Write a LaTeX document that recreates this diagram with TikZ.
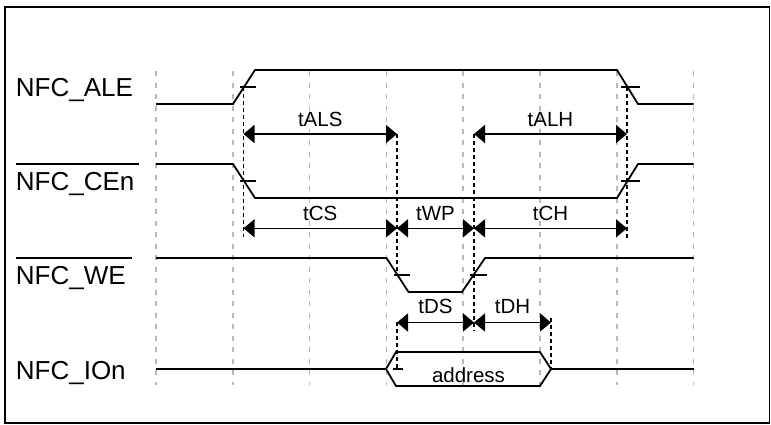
\documentclass[tikz,border=0pt]{standalone}
\usepackage{fontspec}
\setmainfont{Liberation Sans}
\usetikzlibrary{arrows.meta}
\tikzset{
  sig/.style={line width=1.8pt, line join=miter},
  tick/.style={line width=1.8pt},
  gridl/.style={draw=black!28, line width=1.2pt, dash pattern=on 5pt off 6.5pt},
  ext/.style={line width=1.6pt, dash pattern=on 4pt off 3pt},
  dim/.style={line width=1.6pt, {Triangle[length=11pt,width=18pt]}-{Triangle[length=11pt,width=18pt]}},
  siglabel/.style={anchor=base west, inner sep=0pt, font=\fontsize{26}{30}\selectfont},
  dimlabel/.style={anchor=base, inner sep=0pt, font=\fontsize{20.5}{24}\selectfont},
  ovl/.style={line width=1.6pt}
}
\begin{document}
\begin{tikzpicture}[x=1pt,y=-1pt]
\useasboundingbox (0,0) rectangle (771,424);
\draw[line width=1.4pt] (5,7) rectangle (769.5,423);

% grid
\foreach \gx in {156,233,309.5,386.5,463,540,617,693.5}
  \draw[gridl] (\gx,71) -- (\gx,385);

% signal labels
\node[siglabel] (ale) at (15.7,96.7) {NFC\_ALE};
\node[siglabel] (cen) at (15.7,190) {NFC\_CEn};
\node[siglabel] (we)  at (15.7,284) {NFC\_WE};
\node[siglabel] (ion) at (15.7,379) {NFC\_IOn};
\draw[ovl] (cen.base west |- 0,164) -- ([xshift=4pt]cen.base east |- 0,164);
\draw[ovl] (we.base west |- 0,257.7) -- ([xshift=6pt]we.base east |- 0,257.7);

% signals
\draw[sig] (156,104) -- (233,104) -- (255,70) -- (617,70) -- (638,104) -- (693.5,104);
\draw[sig] (156,164) -- (233,164) -- (255,198) -- (617,198) -- (638,164) -- (693.5,164);
\draw[sig] (156,258) -- (386.5,258) -- (408.5,292) -- (462,292) -- (485,258) -- (693.5,258);
\draw[sig] (156,369) -- (386,369);
\draw[sig] (386,369) -- (396,352) -- (540,352) -- (551,369) -- (540,386) -- (396,386) -- cycle;
\draw[sig] (551,369) -- (693.5,369);

% ticks
\draw[tick] (240,87) -- (256,87);
\draw[tick] (621,87) -- (640,87);
\draw[tick] (240,181) -- (256,181);
\draw[tick] (621,181) -- (640,181);
\draw[tick] (394,275) -- (410,275);
\draw[tick] (470,275) -- (487,275);
\draw[tick] (393,369) -- (403,369);
\draw[tick] (551,369) -- (563,369);

% extension lines
\draw[ext] (243.5,87) -- (243.5,237);
\draw[ext] (627,87) -- (627,238);
\draw[ext] (397,134) -- (397,275);
\draw[ext] (397,322) -- (397,369);
\draw[ext] (474,134) -- (474,331);
\draw[ext] (551,318) -- (551,369);

% dimension end points
\coordinate (a1) at (243.5,134);
\coordinate (a2) at (397,134);
\coordinate (a3) at (474,134);
\coordinate (a4) at (627,134);
\coordinate (b1) at (243.5,228.3);
\coordinate (b2) at (397,228.3);
\coordinate (b3) at (474,228.3);
\coordinate (b4) at (627,228.3);
\coordinate (c1) at (397,322.5);
\coordinate (c2) at (474,322.5);
\coordinate (c3) at (551,322.5);

\draw[dim] (a1) -- (a2);
\draw[dim] (a3) -- (a4);
\draw[dim] (b1) -- (b2);
\draw[dim] (b2) -- (b3);
\draw[dim] (b3) -- (b4);
\draw[dim] (c1) -- (c2);
\draw[dim] (c2) -- (c3);

% dimension labels
\node[dimlabel] (tals) at (320.25,126) {tALS};
\node[dimlabel] (talh) at (550.5,126) {tALH};
\node[dimlabel] (tcs) at (320.25,220) {tCS};
\node[dimlabel] (twp) at (435.5,220) {tWP};
\node[dimlabel] (tch) at (550.5,220) {tCH};
\node[dimlabel] (tds) at (435.5,313.5) {tDS};
\node[dimlabel] (tdh) at (512.5,313.5) {tDH};
\node[dimlabel] (addr) at (468.5,382) {address};
\end{tikzpicture}
\end{document}
